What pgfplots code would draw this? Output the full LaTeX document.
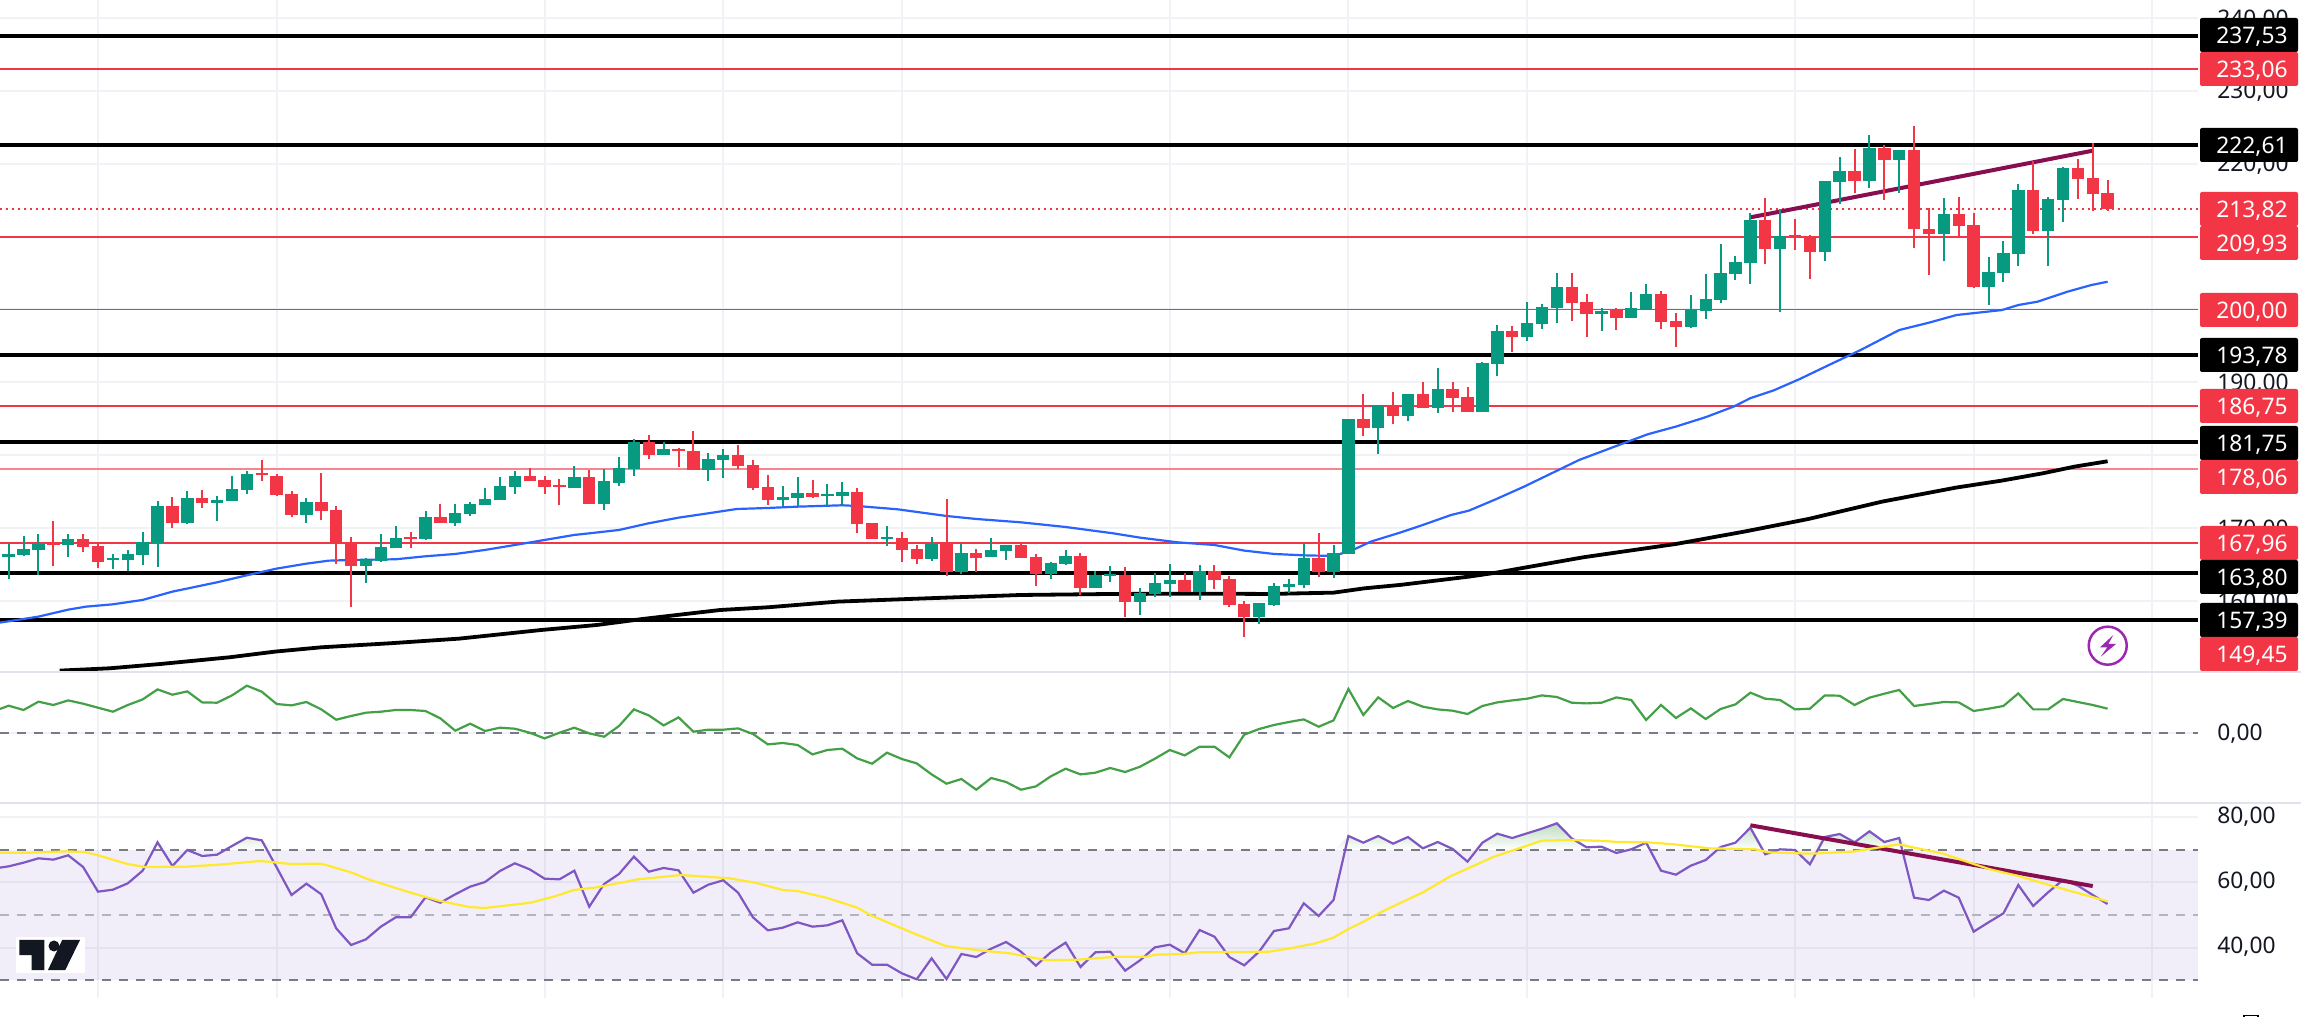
\documentclass[border=0pt]{standalone}
\usepackage{fontspec}
\setmainfont{Noto Sans}
\usepackage{pgfplots}
\usepackage{pgfplotstable}
\pgfplotsset{compat=1.18}
\definecolor{tvred}{HTML}{F23645}
\definecolor{tvgreen}{HTML}{089981}
\definecolor{tvblue}{HTML}{2962FF}
\definecolor{tvgrid}{HTML}{F0F2F6}
\definecolor{tvsep}{HTML}{E0E3EB}
\definecolor{tvdash}{HTML}{787B86}
\definecolor{tvdash2}{HTML}{B2B5BE}
\definecolor{tvtext}{HTML}{131722}
\definecolor{trend}{HTML}{880E4F}
\definecolor{lightred}{HTML}{F6858F}
\definecolor{rsi}{HTML}{7E57C2}
\definecolor{rsima}{HTML}{FFE92E}
\definecolor{mom}{HTML}{43A047}
\definecolor{bolt}{HTML}{9C27B0}
\pgfplotstableread{
i o h l c
0 166.04 167.91 163.02 166.45
1 166.31 168.92 166.22 167.13
2 167.00 169.19 163.57 167.87
3 168.00 170.98 164.85 167.73
4 167.68 169.19 166.08 168.51
5 168.51 169.19 166.77 167.41
6 167.55 167.77 164.57 165.35
7 165.62 166.45 164.39 165.90
8 165.62 167.00 164.12 166.45
9 166.31 169.47 164.94 168.09
10 167.91 173.67 164.66 173.03
11 173.03 174.27 170.02 170.70
12 170.70 175.09 170.57 174.13
13 174.13 175.23 172.76 173.45
14 173.45 174.41 170.98 173.86
15 173.72 177.15 173.72 175.37
16 175.23 177.84 174.68 177.43
17 177.56 179.35 176.47 177.29
18 177.15 177.43 174.41 174.54
19 174.68 175.09 171.53 171.80
20 171.80 174.13 170.70 173.58
21 173.58 177.56 171.11 172.35
22 172.49 173.03 165.08 167.96
23 167.96 168.78 159.17 164.80
24 164.80 165.90 162.47 165.62
25 165.49 169.19 165.35 167.41
26 167.27 170.29 167.27 168.66
27 168.78 169.47 167.27 168.51
28 168.51 172.35 168.37 171.53
29 171.53 173.31 170.70 170.70
30 170.70 173.31 170.29 172.07
31 171.94 173.58 171.66 173.31
32 173.17 175.50 173.17 173.99
33 173.86 177.01 173.86 175.78
34 175.64 177.84 174.68 177.15
35 177.15 178.25 176.47 176.47
36 176.60 177.15 174.68 175.64
37 175.92 176.74 173.17 175.64
38 175.50 178.52 175.50 177.01
39 177.01 177.97 173.31 173.31
40 173.31 178.11 172.49 176.47
41 176.19 179.76 175.78 178.25
42 178.11 182.23 177.15 181.82
43 181.82 182.78 179.48 180.03
44 180.03 181.82 180.03 180.86
45 180.86 180.99 178.39 180.58
46 180.58 183.33 178.02 178.02
47 177.97 180.31 176.47 179.48
48 179.35 180.86 176.88 180.03
49 180.03 181.41 178.11 178.52
50 178.66 179.35 175.23 175.50
51 175.64 177.29 173.17 173.86
52 173.86 175.78 173.03 174.27
53 174.13 177.01 173.03 174.82
54 174.82 176.60 174.13 174.27
55 174.41 176.05 173.03 174.68
56 174.41 176.33 173.17 174.96
57 174.96 175.50 169.33 170.56
58 170.70 170.70 168.51 168.51
59 168.51 170.29 167.55 168.78
60 168.66 169.47 165.35 167.00
61 167.13 167.68 165.08 165.76
62 165.76 168.78 165.49 167.82
63 167.96 173.99 163.43 163.98
64 163.98 167.82 163.70 166.59
65 166.59 167.13 163.98 165.90
66 166.04 168.66 166.04 167.00
67 166.86 167.68 165.62 167.68
68 167.68 167.82 165.90 165.90
69 166.04 166.45 162.06 163.70
70 163.70 165.35 163.02 165.21
71 165.08 167.00 164.94 166.17
72 166.17 166.59 160.82 161.78
73 161.78 164.12 161.78 163.57
74 163.43 164.80 162.61 163.70
75 163.57 164.66 157.80 159.86
76 159.86 161.78 158.08 161.10
77 160.96 163.84 160.55 162.47
78 162.33 165.08 160.55 162.88
79 162.88 163.84 161.23 161.23
80 161.23 164.94 160.14 164.12
81 164.12 164.94 161.65 162.88
82 163.02 163.43 159.17 159.45
83 159.59 159.98 155.06 157.80
84 157.80 159.72 156.84 159.72
85 159.45 162.47 159.31 162.06
86 161.92 163.02 161.10 162.33
87 162.19 167.96 161.78 165.90
88 165.90 169.33 163.29 163.98
89 163.98 167.68 163.15 166.59
90 166.45 185.00 166.45 185.00
91 185.00 188.43 182.66 183.76
92 183.76 186.92 180.19 186.92
93 186.92 188.70 184.31 185.41
94 185.41 188.43 184.72 188.43
95 188.43 190.07 186.50 186.50
96 186.50 191.99 185.82 189.11
97 189.11 190.07 185.96 187.88
98 188.01 189.39 185.96 185.96
99 185.96 192.82 185.96 192.68
100 192.54 197.89 190.90 197.07
101 197.07 197.76 194.19 196.25
102 196.25 201.05 195.70 198.17
103 198.03 200.78 197.34 200.36
104 200.23 205.03 198.17 203.11
105 203.11 205.03 198.44 200.91
106 201.05 202.15 196.25 199.40
107 199.40 200.23 197.07 199.82
108 200.09 200.23 197.21 198.85
109 198.85 202.42 198.85 200.23
110 199.95 203.52 199.95 202.15
111 202.15 202.56 197.34 198.31
112 198.44 199.54 194.88 197.62
113 197.62 202.01 197.48 199.95
114 199.82 204.89 198.72 201.46
115 201.32 209.01 200.91 205.03
116 204.89 207.36 204.07 206.54
117 206.37 213.19 203.49 212.27
118 212.27 215.29 206.24 208.29
119 208.29 213.83 199.65 210.08
120 210.22 212.41 208.16 209.94
121 210.08 210.22 204.18 207.88
122 207.88 217.63 206.65 217.63
123 217.49 220.92 214.47 218.98
124 218.98 222.02 215.98 217.63
125 217.63 223.94 216.66 222.15
126 222.15 222.57 215.02 220.51
127 220.51 221.88 215.98 221.88
128 221.88 225.17 208.43 211.04
129 211.04 213.92 204.73 210.35
130 210.35 215.29 206.65 213.10
131 213.10 215.43 210.08 211.45
132 211.59 213.23 202.94 203.08
133 203.08 207.20 200.61 205.14
134 205.00 209.39 203.77 207.74
135 207.61 217.21 205.96 216.39
136 216.39 220.37 210.35 210.76
137 210.76 215.43 205.96 215.16
138 215.02 219.55 212.00 219.41
139 219.41 220.64 215.16 217.90
140 218.04 222.84 213.51 215.84
141 215.98 217.76 213.51 213.82
}\candles
\pgfplotstableread{
i g r
-0.6 .237 64.56
0 .27 64.97
1 .227 66.10
2 .31 67.44
3 .277 67.03
4 .323 68.36
5 .29 64.77
6 .25 57.18
7 .21 57.79
8 .277 59.74
9 .333 63.64
10 .433 72.36
11 .38 65.08
12 .413 70.00
13 .303 68.15
14 .30 68.56
15 .373 71.23
16 .47 73.79
17 .41 72.97
18 .287 64.67
19 .273 56.15
20 .307 59.64
21 .233 56.36
22 .13 45.90
23 .167 40.77
24 .20 42.51
25 .21 46.41
26 .227 49.28
27 .227 49.28
28 .217 55.44
29 .143 53.79
30 .02 56.36
31 .09 58.72
32 .017 60.15
33 .05 63.54
34 .04 65.90
35 0 64.05
36 -.057 61.18
37 0 60.97
38 .05 63.64
39 -.007 52.56
40 -.04 59.54
41 .067 62.62
42 .233 67.95
43 .173 63.33
44 .073 64.46
45 .153 63.74
46 .01 56.87
47 .03 59.33
48 .03 60.67
49 .043 56.87
50 -.013 49.28
51 -.117 45.28
52 -.103 46.10
53 -.123 47.74
54 -.217 46.41
55 -.173 46.82
56 -.16 48.36
57 -.257 38.21
58 -.31 34.72
59 -.2 34.72
60 -.263 32.05
61 -.307 30.21
62 -.417 36.67
63 -.51 30.31
64 -.463 38.00
65 -.57 37.08
66 -.453 39.64
67 -.493 41.69
68 -.57 38.72
69 -.537 34.41
70 -.437 38.51
71 -.36 41.49
72 -.417 34.00
73 -.40 38.51
74 -.353 38.72
75 -.393 32.87
76 -.34 36.05
77 -.26 40.05
78 -.173 40.87
79 -.227 38.21
80 -.14 45.38
81 -.14 43.33
82 -.247 37.08
83 -.02 34.51
84 .037 38.72
85 .077 45.08
86 .107 45.90
87 .133 53.59
88 .06 49.69
89 .123 54.62
90 .437 74.31
91 .177 72.26
92 .353 74.31
93 .247 71.95
94 .317 74.00
95 .26 70.51
96 .233 72.46
97 .22 70.31
98 .187 66.41
99 .267 72.26
100 .303 75.03
101 .323 73.69
102 .34 75.13
103 .373 76.56
104 .357 78.21
105 .30 73.59
106 .293 70.82
107 .30 71.03
108 .353 69.08
109 .327 70.21
110 .127 72.26
111 .277 63.64
112 .147 62.41
113 .243 65.18
114 .137 66.92
115 .237 70.92
116 .283 72.26
117 .40 76.87
118 .34 68.67
119 .327 70.21
120 .233 70.00
121 .24 65.59
122 .373 74.00
123 .37 74.92
124 .277 72.36
125 .35 75.74
126 .39 72.46
127 .427 73.69
128 .267 55.33
129 .287 54.62
130 .307 57.49
131 .303 55.33
132 .217 44.87
133 .24 47.74
134 .267 50.51
135 .393 59.23
136 .233 52.77
137 .233 56.97
138 .337 60.77
139 .307 59.03
140 .277 56.15
141 .24 53.38
}\indicators
\pgfplotstableread{
i v
-0.6 157.03
0 157.21
2 157.85
4 158.81
5.2 159.22
7 159.54
9 160.14
11 161.28
14 162.56
16 163.52
18 164.44
20 165.12
21.5 165.53
23 165.62
26 165.72
28 166.13
30 166.45
32 167.00
34 167.68
36 168.37
38 169.06
39 169.28
41 169.74
43 170.66
45 171.43
47 172.03
48.9 172.62
51 172.76
53 172.94
56 173.13
57 173.03
59.7 172.58
63 171.66
65 171.25
68 170.79
71 170.15
74.2 169.28
76 168.69
78.5 168.05
81 167.68
83 166.91
85 166.45
87 166.26
89 166.17
90.3 167.00
91.5 168.14
93.47 169.38
95 170.43
96.9 171.80
98.1 172.40
99.95 174.00
101.8 175.69
103.65 177.52
105.5 179.35
108.6 181.73
110.1 182.87
112 183.93
114 185.22
115.9 186.69
117 187.83
118.55 188.88
120.3 190.44
122.3 192.40
124.4 194.43
127 197.18
129 198.19
130.85 199.24
133.9 199.92
135 200.61
136.3 201.07
138.3 202.44
139.9 203.35
141 203.81
}\smafifty
\pgfplotstableread{
i v
3.42 150.44
6.8 150.76
10.2 151.35
14.84 152.27
17.9 153.05
21 153.64
25.6 154.19
30.26 154.83
35.8 156.02
39.5 156.70
42.6 157.53
47.8 158.76
51 159.13
55.7 159.91
61.8 160.37
68 160.82
74.2 160.96
80.3 161.00
84.7 160.96
89 161.14
91.1 161.74
93.47 162.20
98.1 163.34
99.95 163.89
105.8 166.00
112 167.82
116.6 169.52
120.9 171.25
125.85 173.63
130.8 175.55
133.9 176.52
136.65 177.52
138.8 178.44
141 179.17
}\smatwohundred
\pgfplotstableread{
i v
-0.58 69.18
1.47 69.18
3.87 69.59
5.07 69.38
5.93 68.46
7.98 65.69
9.18 64.77
11.93 64.87
14.15 65.49
16.9 66.62
18.95 65.69
21.0 65.79
23.06 63.03
24.09 61.08
27.0 56.87
28.9 54.41
30.95 52.46
31.97 52.15
35.06 53.79
36.77 55.85
37.97 57.69
39.51 58.51
42.26 60.97
45.17 62.31
48.42 61.28
50.14 59.95
52.02 57.69
53 57.38
54.9 55.33
56.95 52.36
57.98 49.79
61.06 43.85
62.95 40.46
65 39.23
67.23 38.21
69.8 36.05
71.86 36.26
74.43 37.18
76.48 37.18
77 37.79
78.88 38.00
79.91 38.51
84.7 38.72
86.08 39.74
87.79 41.28
88.99 43.03
90 45.69
91.05 48.05
92.25 51.03
95 56.97
96.88 62.00
99.79 67.95
103 72.87
104.98 73.08
107.2 72.77
108.07 72.46
110.13 72.36
111.85 71.74
114.25 70.51
117.34 70.21
118.2 69.28
121.11 68.87
123.86 69.49
126.95 71.74
129.86 68.97
133.1 64.05
135 62.00
137.07 59.23
141 54.21
}\rsima
\pgfplotsset{
  tvaxis/.style={
    scale only axis, width=1099pt, anchor=north west, clip=true,
    xmin=-0.584, xmax=147.07,
    axis line style={draw=none}, major tick length=0pt,
    xtick={6,18,36,48,60,78,90,102,120,132,144}, xticklabels={},
    grid=major, major grid style={color=tvgrid, line width=1pt},
    yticklabel pos=right,
    scaled y ticks=false,
    yticklabel style={anchor=west, inner sep=0pt, xshift=9.5pt,
      text height=8.1pt, text depth=0pt, text=tvtext,
      font=\fontsize{11.4}{13}\selectfont,
      /pgf/number format/fixed, /pgf/number format/fixed zerofill,
      /pgf/number format/precision=2, /pgf/number format/use comma,
      /pgf/number format/assume math mode=true, /pgf/number format/1000 sep={}},
  },
  hl/.style={forget plot, line width=2pt, color=black},
  rl/.style={forget plot, line width=.95pt, color=tvred},
}
\newcommand\hlinep[2]{\addplot[#1] coordinates {(-0.584,#2)(147.07,#2)};}
\newcommand\pricebox[3]{\node[fill=#2, text=white, rounded corners=1pt, minimum width=49pt, minimum height=17pt, inner sep=0pt, text height=8.1pt, text depth=0pt, font=\fontsize{11.4}{13}\selectfont] at (2249,#1) {\hspace*{3pt}#3};}
\begin{document}
\begin{tikzpicture}
\path[use as bounding box] (0,0) rectangle (1150.5pt,508.5pt);
% price pane
\begin{axis}[tvaxis, at={(0pt,508.5pt)}, height=336pt,
  ymin=150.25, ymax=242.47,
  ytick={160,170,180,190,200,210,220,230,240}]
\hlinep{hl}{237.53}
\hlinep{rl}{233.06}
\hlinep{hl}{222.61}
\hlinep{rl}{209.93}
\hlinep{rl}{200}
\hlinep{hl}{193.78}
\hlinep{rl}{186.75}
\hlinep{hl}{181.75}
\addplot[forget plot, line width=.95pt, color=lightred] coordinates {(-0.584,178.06)(147.07,178.06)};
\hlinep{rl}{167.96}
\hlinep{hl}{163.80}
\hlinep{hl}{157.39}
\addplot[forget plot, line width=.95pt, color=tvred, dash pattern=on 1pt off 2pt] coordinates {(-0.584,213.82)(147.07,213.82)};
\addplot[forget plot, line width=1.1pt, color=tvblue] table[x=i,y=v] {\smafifty};
\addplot[forget plot, line width=1.9pt, color=black] table[x=i,y=v] {\smatwohundred};
\addplot[forget plot, line width=2pt, color=trend] coordinates {(117,212.64)(140,221.79)};
% wicks and bodies, rising
\addplot[forget plot, draw=none, mark=none,
  restrict expr to domain={\thisrow{c}-\thisrow{o}}{0.000001:1000},
  error bars/.cd, y dir=plus, y explicit, error mark=none,
  error bar style={line width=1pt, color=tvgreen}]
  table[x=i, y=l, y error expr=\thisrow{h}-\thisrow{l}] {\candles};
\addplot[forget plot, draw=none, mark=none,
  restrict expr to domain={\thisrow{c}-\thisrow{o}}{0.000001:1000},
  error bars/.cd, y dir=plus, y explicit, error mark=none,
  error bar style={line width=6.2pt, color=tvgreen}]
  table[x=i, y=o, y error expr=\thisrow{c}-\thisrow{o}] {\candles};
% wicks and bodies, falling
\addplot[forget plot, draw=none, mark=none,
  restrict expr to domain={\thisrow{o}-\thisrow{c}}{0.000001:1000},
  error bars/.cd, y dir=plus, y explicit, error mark=none,
  error bar style={line width=1pt, color=tvred}]
  table[x=i, y=l, y error expr=\thisrow{h}-\thisrow{l}] {\candles};
\addplot[forget plot, draw=none, mark=none,
  restrict expr to domain={\thisrow{o}-\thisrow{c}}{0.000001:1000},
  error bars/.cd, y dir=plus, y explicit, error mark=none,
  error bar style={line width=6.2pt, color=tvred}]
  table[x=i, y=c, y error expr=\thisrow{o}-\thisrow{c}] {\candles};
\end{axis}
% momentum pane
\begin{axis}[tvaxis, at={(0pt,172.5pt)}, height=65.5pt,
  ymin=-0.703, ymax=0.607, ytick={0}]
\addplot[forget plot, line width=1pt, color=tvdash, dash pattern=on 4.5pt off 4pt] coordinates {(-0.584,0)(147.07,0)};
\addplot[forget plot, line width=1.1pt, color=mom] table[x=i,y=g] {\indicators};
\end{axis}
% RSI pane
\begin{axis}[tvaxis, at={(0pt,107pt)}, height=97.5pt,
  ymin=24.46, ymax=84.46, ytick={40,60,80},
  yticklabel style={yshift=1pt}]
\addplot[forget plot, draw=none, fill=rsi, fill opacity=0.1] coordinates {(-0.584,30)(147.07,30)(147.07,70)(-0.584,70)} -- cycle;
\addplot[forget plot, draw=none, top color=mom!35!white, bottom color=white] table[x=i, y expr={max(\thisrow{r},70)}] {\indicators} -- cycle;
\addplot[forget plot, line width=1pt, color=tvdash, dash pattern=on 4.5pt off 4pt] coordinates {(-0.584,70)(147.07,70)};
\addplot[forget plot, line width=1pt, color=tvdash2, dash pattern=on 4.5pt off 4pt] coordinates {(-0.584,50)(147.07,50)};
\addplot[forget plot, line width=1pt, color=tvdash, dash pattern=on 4.5pt off 4pt] coordinates {(-0.584,30)(147.07,30)};
\addplot[forget plot, line width=1.1pt, color=rsi] table[x=i,y=r] {\indicators};
\addplot[forget plot, line width=2pt, color=trend] coordinates {(117,77.6)(140,58.9)};
\addplot[forget plot, line width=1.1pt, color=rsima] table[x=i,y=v] {\rsima};
\end{axis}
% overlay in reference pixels
\begin{scope}[x=0.5pt, y=-0.5pt, shift={(0pt,508.5pt)}]
\draw[tvsep, line width=1pt] (0,672) -- (2301,672);
\draw[tvsep, line width=1pt] (0,803) -- (2301,803);
\pricebox{35}{black}{237,53}
\pricebox{69}{tvred}{233,06}
\pricebox{145}{black}{222,61}
\pricebox{209}{tvred}{213,82}
\pricebox{243}{tvred}{209,93}
\pricebox{310}{tvred}{200,00}
\pricebox{355}{black}{193,78}
\pricebox{406}{tvred}{186,75}
\pricebox{443}{black}{181,75}
\pricebox{477}{tvred}{178,06}
\pricebox{543}{tvred}{167,96}
\pricebox{577}{black}{163,80}
\pricebox{620}{black}{157,39}
\pricebox{654}{tvred}{149,45}
% lightning icon
\draw[bolt, line width=1.25pt] (2107.7,645.7) circle[radius=19];
\fill[bolt] (2113.3,635) -- (2100,647.3) -- (2107.3,647.3) -- (2100.7,656.7) -- (2116,644) -- (2108.3,644) -- cycle;
% logo
\fill[white] (16,937) rectangle (85,973);
\fill[tvtext] (19.4,940) -- (44.4,940) -- (44.4,970) -- (31.6,970) -- (31.6,955) -- (19.4,955) -- cycle;
\fill[tvtext] (54,946) circle[radius=5.5];
\fill[tvtext] (62.2,940) -- (80,940) -- (65.3,970) -- (48,970) -- cycle;
% bottom scrap of an icon
\draw[black, line width=.8pt] (2244,1017) -- (2244,1015.5) -- (2258,1015.5) -- (2258,1017);
\end{scope}
\end{tikzpicture}
\end{document}
